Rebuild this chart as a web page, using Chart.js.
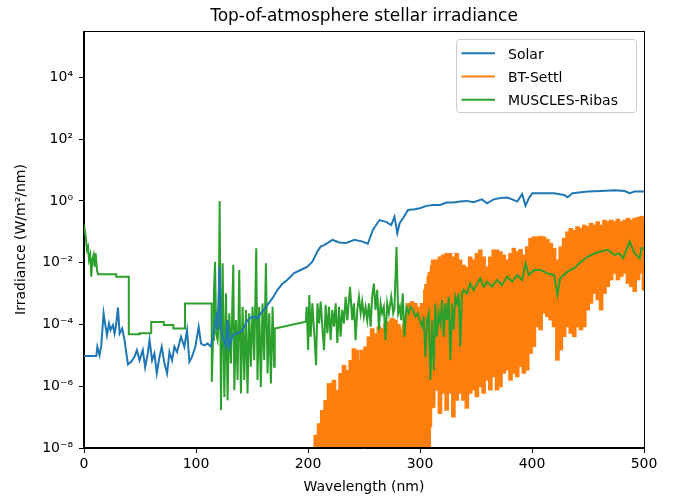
<!DOCTYPE html>
<html>
<head>
<meta charset="utf-8">
<script src="https://cdn.jsdelivr.net/npm/chart.js@4/dist/chart.umd.min.js"></script>
<style>
html,body{margin:0;padding:0;background:#fff;}
#wrap{width:676px;height:498px;}
</style>
</head>
<body>
<div id="wrap"><canvas id="c" width="676" height="498"></canvas></div>
<script>
// ---------------- data ----------------
const chartTitle = 'Top-of-atmosphere stellar irradiance';
const xTitle = 'Wavelength (nm)';
const yTitle = 'Irradiance (W/m\u00B2/nm)';
const seriesNames = ['Solar', 'BT-Settl', 'MUSCLES-Ribas'];

const yTickValues = [1e-8, 1e-6, 1e-4, 1e-2, 1e0, 1e2, 1e4];
const yTickLabels = ['10\u207B\u2078', '10\u207B\u2076', '10\u207B\u2074', '10\u207B\u00B2', '10\u2070', '10\u00B2', '10\u2074'];

// Solar
const solarWl = [0,11.0,11.9,13.9,15.4,17.5,19.3,20.5,22.3,23.7,
25.8,27.3,28.8,30.3,31.8,34.1,36.2,39.2,42.1,45.1,
47.2,49.6,52.5,54.6,57.0,58.5,60.8,62.9,65.0,67.4,
69.4,71.8,74.2,76.3,78.6,80.7,83.1,86.6,89.6,92.0,
94.1,96.4,99.4,102.4,104.5,107.4,110.4,113.4,116.4,118.2,
119.3,121.1,122.3,123.8,126.8,128.2,129.7,132.7,137.1,141.6,
146.0,150.5,154.9,157.9,163.9,168.3,172.8,177.2,181.7,187.6,
193.5,199.5,203.9,208.4,211.3,214.4,221.9,227.9,233.9,241.4,
248.9,253.4,257.9,263.8,269.8,274.3,277.3,279.7,281.8,284.8,
289.3,295.3,299.8,305.8,311.8,317.8,323.8,329.8,335.8,341.8,
347.8,355.3,359.8,365.8,371.8,377.8,382.3,386.8,391.2,394.2,
397.2,400.2,407.7,419.7,428.7,431.7,436.2,449.7,461.7,473.7,
482.7,487.2,491.7,500];
const solarIrr = [9.5e-6,9.5e-6,1.9e-5,1.0e-5,2.1e-5,2.3e-4,8.3e-5,4.5e-5,1.07e-4,6.6e-5,
9.5e-5,5.1e-5,1.07e-4,3.5e-4,5.1e-5,7.4e-5,3.1e-5,5.1e-6,6.2e-6,8.9e-6,
1.48e-5,6.9e-6,1.48e-5,4.1e-6,1.15e-5,3.2e-5,6.9e-6,1.15e-5,2.6e-6,8.9e-6,
1.9e-5,5.5e-6,2.6e-6,1.29e-5,6.9e-6,1.9e-5,1.29e-5,4.0e-5,1.9e-5,6.6e-5,
6.2e-6,8.9e-6,1.9e-5,8.3e-5,2.4e-5,2.1e-5,2.4e-5,1.9e-5,8.3e-5,1.78e-4,
6.6e-5,7.4e-3,8.3e-5,4.0e-5,1.9e-5,1.38e-4,1.9e-5,4.6e-5,5.1e-5,6.6e-5,
1.38e-4,1.78e-4,1.58e-4,2.3e-4,4.3e-4,7.1e-4,1.32e-3,2.1e-3,2.8e-3,4.6e-3,
5.8e-3,7.4e-3,1.07e-2,2.3e-2,3.3e-2,3.7e-2,5.5e-2,4.5e-2,4.3e-2,5.5e-2,
4.8e-2,4.1e-2,0.115,0.24,0.21,0.166,0.31,0.089,0.19,0.275,
0.51,0.54,0.58,0.69,0.74,0.74,0.89,0.89,0.95,1.0,
0.91,1.12,0.83,1.12,1.23,1.29,1.12,0.95,1.66,0.69,
1.23,1.78,1.78,1.78,1.55,1.32,1.78,2.0,2.09,2.19,
2.09,1.78,2.0,2.0];

// BT-Settl (dense spectrum: lower and upper extent at each sampled wavelength)
const settlWl = [205.4,206.9,209.9,212.8,215.8,218.8,221.7,223.2,226.2,229.1,
232.1,235.1,238.1,241.0,244.0,247.0,248.4,251.4,254.4,257.3,
260.3,263.3,266.2,269.2,272.2,274.5,275.2,276.0,278.1,280.5,
281.1,281.8,284.1,285.8,286.5,287.2,290.0,293.0,295.9,298.9,
301.9,304.8,305.8,307.8,308.8,310.8,311.8,314.8,317.8,320.8,
323.8,326.8,329.8,332.8,335.8,338.8,341.8,344.8,347.8,350.8,
353.8,356.8,359.8,362.8,365.8,368.8,371.8,374.8,377.8,380.8,
383.8,386.8,389.8,392.7,395.7,398.7,401.7,404.7,407.7,410.7,
413.7,416.7,419.7,422.7,425.7,428.7,431.7,434.7,437.7,440.7,
443.7,446.7,449.7,452.7,455.7,458.7,461.7,464.7,467.7,470.7,
473.7,476.7,479.7,482.7,485.7,488.7,491.7,494.7,497.7,500];
const settlHigh = [1e-8,2.6e-8,6.2e-8,1.66e-7,3.5e-7,1.23e-6,1.23e-6,1.58e-6,7.4e-7,2.6e-6,
4.8e-6,3.3e-6,6.9e-6,1.66e-5,1.48e-5,6.9e-6,1.48e-5,1.9e-5,4.0e-5,7.4e-5,
5.1e-5,8.5e-5,7.4e-5,1.07e-4,1.23e-4,1.4e-4,1.58e-4,1.5e-4,1.38e-4,1.0e-4,
8.5e-5,7.0e-5,4.6e-5,1.0e-4,1.58e-4,1.78e-4,4.8e-4,5.5e-4,4.8e-4,3.7e-4,
4.8e-4,1.32e-3,2.0e-3,3.55e-3,5.0e-3,8.0e-3,1.23e-2,1.23e-2,1.55e-2,1.78e-2,
2.0e-2,2.0e-2,1.55e-2,2.0e-2,1.23e-2,8.3e-3,7.4e-3,1.55e-2,1.23e-2,2.0e-2,
2.6e-2,1.55e-2,7.4e-3,1.55e-2,2.6e-2,2.6e-2,2.3e-2,1.78e-2,1.23e-2,2.0e-2,
2.95e-2,2.3e-2,2.7e-2,1.78e-2,3.3e-2,6.2e-2,6.9e-2,6.9e-2,7.2e-2,6.9e-2,
5.75e-2,4.3e-2,2.95e-2,1.23e-2,3.3e-2,6.2e-2,0.1,0.129,0.112,0.148,
0.129,0.166,0.148,0.19,0.166,0.214,0.166,0.24,0.214,0.24,
0.214,0.257,0.214,0.24,0.275,0.24,0.275,0.295,0.32,0.275];
const settlLow = [1e-9,1e-9,1e-9,1e-9,1e-9,1e-9,1e-9,1e-9,1e-9,1e-9,
1e-9,1e-9,1e-9,1e-9,1e-9,1e-9,1e-9,1e-9,1e-9,1e-9,
1e-9,1e-9,1e-9,1e-9,1e-9,1e-9,6e-8,1e-9,1e-9,1e-9,
2.5e-8,1e-9,1e-9,1e-9,2e-7,1e-9,1e-9,1e-9,1e-9,1e-9,
1e-9,1e-9,1.5e-8,5e-9,4.8e-8,2e-7,2.1e-7,7.4e-7,1.29e-7,5.8e-7,
1.66e-7,5.8e-7,1.0e-7,3.5e-7,5.8e-7,3.5e-7,1.9e-7,5.8e-7,7.4e-7,4.5e-7,
9.5e-7,5.8e-7,1.55e-6,7.4e-7,2.0e-6,7.4e-7,9.5e-7,2.6e-6,3.3e-6,1.55e-6,
2.6e-6,2.0e-6,4.3e-6,2.6e-6,3.3e-6,1.15e-5,1.9e-5,8.3e-5,6.6e-5,2.3e-4,
1.78e-4,1.38e-4,8.3e-5,6.9e-6,1.48e-5,4.0e-5,8.3e-5,5.1e-5,4.0e-5,8.3e-5,
6.6e-5,8.3e-5,2.9e-4,4.8e-4,1.0e-3,6.2e-4,2.9e-4,1.0e-3,1.66e-3,2.75e-3,
4.5e-3,2.75e-3,3.55e-3,4.5e-3,2.1e-3,1.66e-3,1.15e-3,2.75e-3,4.5e-3,1.29e-3];

// MUSCLES-Ribas
const musclesWl = [0,1.5,2.7,3.6,4.5,5.6,6.5,7.4,8.6,9.5,
10.4,11.6,12.5,28.8,28.8,40.0,40.0,49.6,49.6,60.0,
60.0,71.2,71.2,79.8,79.8,90.2,90.2,114.0,
114.1,115.2,116.0,117.0,118.0,119.3,120.2,121.1,122.3,123.8,
125.3,126.8,128.2,129.7,131.2,133.3,134.2,135.7,137.1,138.6,
140.1,141.6,143.1,144.6,146.0,147.5,149.0,150.5,152.0,153.8,
154.9,156.4,157.9,159.4,160.9,162.4,163.9,165.4,166.9,168.4,
169.8,170.3,
198.0,198.9,200.1,201.2,202.4,203.9,205.4,207.2,208.4,209.9,
211.3,212.8,214.3,215.8,217.3,218.8,220.2,221.7,223.2,224.7,
226.2,227.7,229.1,230.6,232.1,233.6,235.1,237.5,239.5,241.0,
242.5,244.0,245.5,247.0,248.4,249.9,251.4,252.9,254.4,255.9,
257.3,258.8,260.3,261.8,263.3,264.8,266.2,267.7,269.2,270.7,
272.2,274.3,276.1,277.2,279.0,280.5,282.0,283.2,284.6,286.1,
287.9,290.0,291.5,293.9,295.9,298.0,299.8,301.9,303.3,304.8,
306.3,307.8,309.3,310.8,312.3,313.7,315.2,316.7,318.2,319.7,
321.2,322.6,324.1,325.6,327.1,328.6,330.1,331.5,333.0,334.5,
336.0,337.5,339.0,341.8,344.8,347.8,353.8,356.8,359.8,364.3,
368.8,373.3,377.8,382.3,386.8,391.2,394.2,397.2,401.7,407.7,
413.7,419.7,422.7,425.1,431.7,437.7,443.7,449.7,455.7,461.7,
467.7,473.7,478.2,481.2,487.2,491.7,496.2,497.7,500];
const musclesIrr = [0.17,0.069,0.026,0.033,0.0123,0.0178,0.0035,0.0123,0.0178,0.0074,
0.020,0.0058,0.0042,0.0042,0.0035,0.0035,4.8e-5,4.8e-5,5.2e-5,5.2e-5,
1.2e-4,1.2e-4,9.6e-5,9.6e-5,7.4e-5,7.4e-5,4.8e-4,4.8e-4,
1.38e-6,3.2e-5,1.0e-3,1.07e-2,5.0e-5,3.1e-5,1.0e-4,1.0,1.66e-7,9.5e-3,
4.5e-7,1.02e-3,3.5e-7,2.3e-4,5.5e-6,8.5e-3,7.4e-7,1.38e-4,1.58e-6,5.8e-3,
5.8e-7,3.7e-4,1.58e-6,2.95e-4,5.8e-7,2.3e-4,4.3e-6,3.7e-4,6.9e-6,2.95e-2,
1.58e-6,3.7e-4,9.5e-7,4.8e-4,6.9e-6,9.5e-3,2.6e-6,2.3e-4,1.23e-6,3.7e-4,
4.3e-6,7.4e-5,
1.23e-4,3.7e-4,1.48e-5,8.9e-4,4.0e-5,4.8e-4,6.6e-5,4.8e-6,4.8e-4,1.07e-4,
5.5e-4,8.5e-5,1.48e-5,4.3e-4,5.1e-5,3.7e-4,3.1e-5,2.95e-4,8.5e-5,4.8e-4,
2.5e-5,3.7e-4,4.0e-5,2.95e-4,1.07e-4,7.9e-4,1.38e-4,1.66e-3,1.38e-4,4.8e-4,
3.1e-5,2.95e-4,7.9e-4,2.3e-4,5.5e-4,1.78e-4,3.7e-4,1.38e-4,4.8e-4,8.5e-5,
7.9e-4,2.1e-3,2.95e-4,1.32e-3,6.6e-5,4.8e-4,2.3e-4,3.7e-4,3.1e-5,4.8e-4,
2.3e-4,7.9e-4,2.3e-4,3.3e-4,3.2e-2,2.3e-4,3.7e-4,1.38e-4,1.02e-3,4.0e-5,
3.7e-4,2.3e-4,3.7e-4,2.95e-4,1.78e-4,2.3e-4,1.38e-4,8.5e-5,1.78e-4,8.9e-6,
1.38e-4,2.3e-4,1.58e-6,1.38e-4,3.3e-6,4.8e-4,4.0e-5,2.3e-4,1.07e-4,6.2e-4,
4.0e-5,4.8e-4,1.38e-4,7.9e-4,6.9e-6,4.8e-4,6.6e-5,7.9e-4,4.8e-4,1.02e-3,
1.9e-5,1.02e-3,1.32e-3,1.0e-3,2.1e-3,1.29e-3,3.1e-3,1.66e-3,2.4e-3,1.66e-3,
2.75e-3,1.9e-3,3.55e-3,2.4e-3,4.0e-3,2.75e-3,9.5e-3,4.0e-3,5.75e-3,5.75e-3,
4.5e-3,4.0e-3,8.9e-4,3.1e-3,5.1e-3,6.6e-3,1.07e-2,1.55e-2,2.0e-2,2.3e-2,
2.6e-2,1.78e-2,2.0e-2,1.38e-2,4.8e-2,2.0e-2,1.38e-2,2.95e-2,2.95e-2];

// ---------------- styling ----------------
const FONT = 'DejaVu Sans';
const colors = ['#1f77b4', '#ff7f0e', '#2ca02c'];
const toXY = (xs, ys) => xs.map((x, i) => ({x: x, y: ys[i]}));
const toRange = (xs, lo, hi) => xs.map((x, i) => ({x: x, y: [lo[i], hi[i]]}));

// frame (all four spines) drawn over the data
const framePlugin = {
  id: 'frame',
  afterDatasetsDraw(chart) {
    const {ctx, chartArea: a} = chart;
    ctx.save();
    ctx.strokeStyle = '#000';
    ctx.lineWidth = 1;
    ctx.strokeRect(Math.round(a.left) - 0.5, Math.round(a.top) + 0.5,
                   Math.round(a.right) - Math.round(a.left) + 1, Math.round(a.bottom) - Math.round(a.top) - 1);
    ctx.restore();
  }
};

// matplotlib-style legend box inside the axes (upper right)
const boxLegend = {
  id: 'boxLegend',
  afterDraw(chart) {
    const {ctx, chartArea: a} = chart;
    const items = chart.data.datasets.filter(d => !d.noLegend);
    const bx = a.right - 187.5, by = a.top + 8.5, bw = 180, bh = 73, r = 3;
    ctx.save();
    ctx.beginPath();
    ctx.moveTo(bx + r, by);
    ctx.lineTo(bx + bw - r, by); ctx.arcTo(bx + bw, by, bx + bw, by + r, r);
    ctx.lineTo(bx + bw, by + bh - r); ctx.arcTo(bx + bw, by + bh, bx + bw - r, by + bh, r);
    ctx.lineTo(bx + r, by + bh); ctx.arcTo(bx, by + bh, bx, by + bh - r, r);
    ctx.lineTo(bx, by + r); ctx.arcTo(bx, by, bx + r, by, r);
    ctx.closePath();
    ctx.fillStyle = 'rgba(255,255,255,0.8)';
    ctx.fill();
    ctx.strokeStyle = '#cccccc';
    ctx.lineWidth = 1;
    ctx.stroke();
    ctx.font = '14px "' + FONT + '"';
    ctx.textBaseline = 'alphabetic';
    ctx.textAlign = 'left';
    items.forEach((d, i) => {
      const ly = by + 13.7 + i * 23.3;
      ctx.strokeStyle = d.borderColor;
      ctx.lineWidth = 2;
      ctx.beginPath();
      ctx.moveTo(bx + 5, ly);
      ctx.lineTo(bx + 38.5, ly);
      ctx.stroke();
      ctx.fillStyle = '#000';
      ctx.fillText(d.label, bx + 51.5, ly + 5.6);
    });
    ctx.restore();
  }
};

new Chart(document.getElementById('c'), {
  type: 'line',
  data: {
    datasets: [
      {label: seriesNames[0], data: toXY(solarWl, solarIrr), borderColor: colors[0], borderWidth: 2, fill: false, order: 0},
      {type: 'bar', label: seriesNames[1], data: toRange(settlWl, settlLow, settlHigh),
       borderColor: colors[1], backgroundColor: colors[1], borderWidth: 0, barThickness: 4, order: 2},
      {label: seriesNames[2], data: toXY(musclesWl, musclesIrr), borderColor: colors[2], borderWidth: 2, fill: false, order: 1}
    ]
  },
  options: {
    responsive: false,
    animation: false,
    devicePixelRatio: 1,
    elements: {point: {radius: 0, hoverRadius: 0}, line: {tension: 0, borderJoinStyle: 'miter'}},
    layout: {padding: {left: 0, right: 32, top: 0, bottom: 0}},
    plugins: {
      legend: {display: false},
      tooltip: {enabled: false},
      title: {
        display: true, fullSize: false, text: chartTitle, color: '#000',
        font: {family: FONT, size: 17, weight: 'normal'},
        padding: {top: 6.6, bottom: 4}
      }
    },
    scales: {
      x: {
        type: 'linear', min: 0, max: 500, offset: false,
        ticks: {stepSize: 100, color: '#000', font: {family: FONT, size: 14}, padding: 3, maxRotation: 0},
        grid: {drawOnChartArea: false, drawTicks: true, tickLength: 5, color: '#000', offset: false},
        border: {display: true, color: '#000'},
        title: {display: true, text: xTitle, color: '#000', font: {family: FONT, size: 14}, padding: {top: 0, bottom: 2.6}},
        afterFit(s) { s.height = 50; }
      },
      y: {
        type: 'logarithmic', min: 1e-8, max: 316227.77,
        afterBuildTicks(s) { s.ticks = yTickValues.map(v => ({value: v})); },
        ticks: {
          color: '#000', font: {family: FONT, size: 14}, padding: 6,
          callback: (v, i) => yTickLabels[i]
        },
        grid: {drawOnChartArea: false, drawTicks: true, tickLength: 5, color: '#000'},
        border: {display: true, color: '#000'},
        title: {display: true, text: yTitle, color: '#000', font: {family: FONT, size: 14}, padding: {top: 13, bottom: 0}},
        afterFit(s) { s.width = 84; }
      }
    }
  },
  plugins: [framePlugin, boxLegend]
});
</script>
</body>
</html>
